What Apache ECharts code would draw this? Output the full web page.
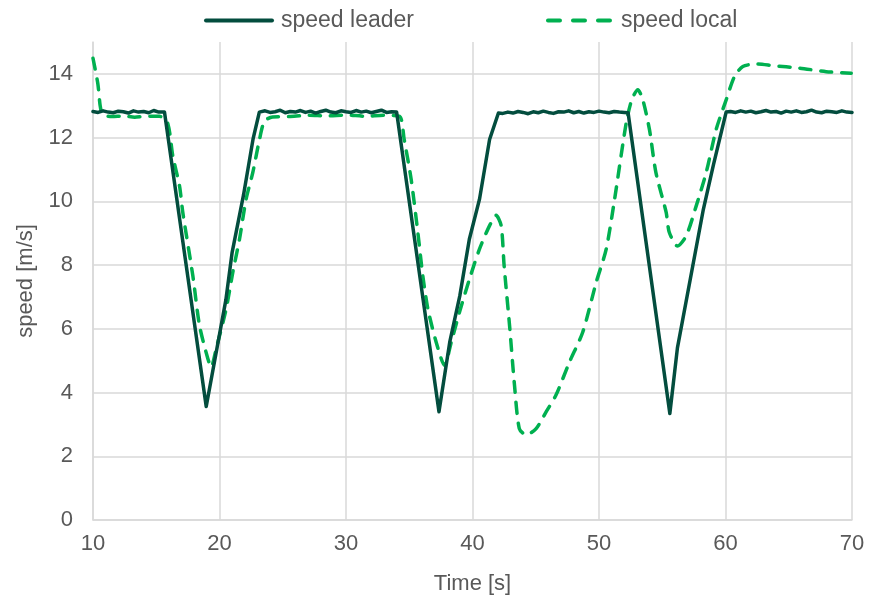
<!DOCTYPE html>
<html>
<head>
<meta charset="utf-8">
<script src="https://cdn.jsdelivr.net/npm/echarts@6/dist/echarts.min.js"></script>
<style>
  html, body { margin: 0; padding: 0; background: #fff; }
  #main { width: 869px; height: 600px; }
</style>
</head>
<body>
<div id="main"></div>
<script>
// speed leader, time [s] / speed [m/s]
var leaderT = [10.0, 10.4, 10.8, 11.2, 11.6, 12.0, 12.4, 12.8, 13.2, 13.6, 14.0, 14.4, 14.8, 15.2, 15.65,
  18.95,
  20.5, 21.0, 21.9, 22.65, 23.15,
  23.6, 24.0, 24.4, 24.8, 25.2, 25.6, 26.0, 26.4, 26.8, 27.2, 27.6, 28.0, 28.4, 28.8, 29.2, 29.6, 30.0, 30.4, 30.8, 31.2, 31.6, 32.0, 32.4, 32.8, 33.2, 33.6, 34.0,
  37.35,
  38.2, 39.0, 39.75, 40.55, 41.35, 42.05,
  42.4, 42.8, 43.2, 43.6, 44.0, 44.4, 44.8, 45.2, 45.6, 46.0, 46.4, 46.8, 47.2, 47.6, 48.0, 48.4, 48.8, 49.2, 49.6, 50.0, 50.4, 50.8, 51.2, 51.6, 52.0, 52.3,
  55.6,
  56.2, 58.25, 59.05, 60.05,
  60.4, 60.8, 61.2, 61.6, 62.0, 62.4, 62.8, 63.2, 63.6, 64.0, 64.4, 64.8, 65.2, 65.6, 66.0, 66.4, 66.8, 67.2, 67.6, 68.0, 68.4, 68.8, 69.2, 69.6, 70.0];
var leaderV = [12.82, 12.79, 12.84, 12.80, 12.78, 12.83, 12.81, 12.77, 12.84, 12.80, 12.82, 12.78, 12.85, 12.80, 12.80,
  3.56,
  6.9, 8.4, 10.2, 11.95, 12.80,
  12.84, 12.79, 12.81, 12.86, 12.78, 12.82, 12.80, 12.85, 12.79, 12.83, 12.77, 12.82, 12.86, 12.80, 12.78, 12.84, 12.81, 12.79, 12.85, 12.80, 12.83, 12.78, 12.82, 12.86, 12.79, 12.81, 12.80,
  3.40,
  5.58, 7.04, 8.81, 10.06, 11.94, 12.77,
  12.76, 12.80, 12.77, 12.82, 12.79, 12.75, 12.81, 12.78, 12.83, 12.79, 12.76, 12.81, 12.80, 12.84, 12.78, 12.82, 12.77, 12.81, 12.79, 12.83, 12.80, 12.78, 12.82, 12.80, 12.79, 12.78,
  3.34,
  5.4, 9.75, 11.15, 12.80,
  12.82, 12.79, 12.84, 12.80, 12.83, 12.78, 12.81, 12.85, 12.80, 12.82, 12.77, 12.83, 12.80, 12.84, 12.79, 12.81, 12.86, 12.80, 12.78, 12.83, 12.81, 12.79, 12.84, 12.80, 12.79];

// speed local
var localT = [10.0, 10.38, 10.57, 10.77, 11.5, 12.4, 13.3, 14.2, 15.26, 15.9,
  16.31, 16.84, 17.1, 17.89, 18.42, 19.08, 19.34,
  19.74, 20.53, 21.05, 21.58, 22.1, 22.63, 23.16, 23.55, 24.2,
  25.5, 27.0, 28.5, 30.0, 31.5, 33.0, 34.23,
  34.6, 35.15, 35.68, 36.07, 36.47, 37.13, 37.79,
  38.32, 38.97, 39.76, 40.55, 41.34, 41.87, 42.27,
  42.5, 42.93, 43.32, 43.7, 44.24,
  45.03, 45.83, 46.6, 47.67, 48.72, 49.78, 50.57, 51.23, 52.15, 52.6, 53.07,
  53.46, 53.99, 54.5, 55.31, 55.56, 56.2,
  56.9, 57.68, 58.47, 59.26, 60.06, 60.71, 61.37, 62.43, 63.74, 65.85, 67.96, 69.94];
var localV = [14.49, 13.7, 12.99, 12.72, 12.66, 12.68, 12.64, 12.67, 12.67, 12.46,
  11.42, 10.48, 9.65, 7.67, 6.1, 5.06, 4.8,
  5.38, 6.63, 7.77, 8.81, 10.06, 10.9, 11.94, 12.51, 12.65,
  12.66, 12.70, 12.68, 12.71, 12.67, 12.70, 12.67,
  11.94, 10.69, 9.02, 7.67, 6.63, 5.58, 4.85,
  5.58, 6.52, 7.56, 8.5, 9.23, 9.56, 9.23,
  7.98, 6.1, 4.23, 2.87, 2.67,
  2.87, 3.4, 3.92, 4.96, 5.9, 7.46, 8.5, 10.06, 12.46, 13.2, 13.5,
  13.19, 12.25, 10.9, 9.65, 9.02, 8.6,
  8.92, 9.85, 10.9, 12.25, 13.19, 13.92, 14.23, 14.31, 14.26, 14.18, 14.07, 14.02];

var xTicks = [10, 20, 30, 40, 50, 60, 70];
var yTicks = [0, 2, 4, 6, 8, 10, 12, 14];

function pairs(t, v) {
  return t.map(function (x, i) { return [x, v[i]]; });
}

var font = 'Liberation Sans, Arial, sans-serif';
var textGrey = '#595959';
var gridGrey = '#d9d9d9';
var leaderColor = '#034d3e';
var localColor = '#00b050';

// legend icons: a solid bar and three short dashes
var solidIcon = 'path://M2,0H68A2,2 0 0 1 68,4H2A2,2 0 0 1 2,0Z';
var dashIcon = 'path://M2,0H14A2,2 0 0 1 14,4H2A2,2 0 0 1 2,0Z M27,0H39A2,2 0 0 1 39,4H27A2,2 0 0 1 27,0Z M52,0H64A2,2 0 0 1 64,4H52A2,2 0 0 1 52,0Z';

var chart = echarts.init(document.getElementById('main'));
chart.setOption({
  animation: false,
  legend: {
    left: 199,
    top: 4,
    itemWidth: 70,
    itemHeight: 4,
    itemGap: 132,
    textStyle: { fontFamily: font, fontSize: 23, color: textGrey, padding: [0, 0, 0, 2] },
    data: [
      { name: 'speed leader', icon: solidIcon, itemStyle: { color: leaderColor } },
      { name: 'speed local', icon: dashIcon, itemStyle: { color: localColor } }
    ]
  },
  grid: { left: 93, right: 17, top: 42, bottom: 78 },
  xAxis: {
    type: 'value',
    min: xTicks[0],
    max: xTicks[xTicks.length - 1],
    interval: 10,
    name: 'Time [s]',
    nameLocation: 'middle',
    nameGap: 53,
    nameTextStyle: { fontFamily: font, fontSize: 22, color: textGrey },
    axisLine: { lineStyle: { color: gridGrey, width: 1.5 } },
    axisTick: { show: false },
    axisLabel: { margin: 13, fontFamily: font, fontSize: 22, color: textGrey },
    splitLine: { show: true, lineStyle: { color: gridGrey, width: 1.5 } }
  },
  yAxis: {
    type: 'value',
    min: yTicks[0],
    max: 15,
    interval: 2,
    name: 'speed [m/s]',
    nameLocation: 'middle',
    nameGap: 56,
    nameTextStyle: { fontFamily: font, fontSize: 22, color: textGrey },
    axisLine: { show: true, lineStyle: { color: gridGrey, width: 1.5 } },
    axisTick: { show: false },
    axisLabel: {
      margin: 20, fontFamily: font, fontSize: 22, color: textGrey,
      showMaxLabel: false,
      formatter: function (v) { return yTicks.indexOf(v) >= 0 ? String(v) : ''; }
    },
    splitLine: { show: true, showMaxLine: false, lineStyle: { color: gridGrey, width: 1.5 } }
  },
  series: [
    {
      name: 'speed leader',
      type: 'line',
      data: pairs(leaderT, leaderV),
      symbol: 'none',
      color: leaderColor,
      lineStyle: { width: 3.5, color: leaderColor, cap: 'round', join: 'round' },
      z: 3
    },
    {
      name: 'speed local',
      type: 'line',
      data: pairs(localT, localV),
      symbol: 'none',
      smooth: 0.25,
      color: localColor,
      lineStyle: { width: 3.5, color: localColor, type: [11, 10], cap: 'round', join: 'round' },
      z: 2
    }
  ]
});
</script>
</body>
</html>
